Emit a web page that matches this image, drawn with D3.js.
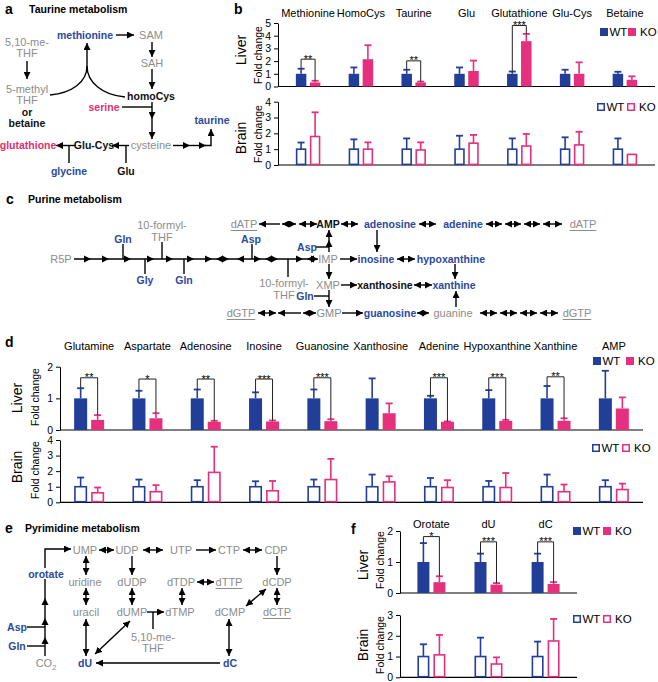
<!DOCTYPE html>
<html><head><meta charset="utf-8">
<script src="https://cdn.jsdelivr.net/npm/d3@7"></script>
<style>body{margin:0;background:#fff}svg{display:block}</style>
</head><body><svg id="c" width="658" height="682"></svg>
<script>
// ---------------- DATA ----------------
const bCategories = ["Methionine","HomoCys","Taurine","Glu","Glutathione","Glu-Cys","Betaine"];
const bLiverWT    = [1,1,1,1,1,1,1];
const bLiverWTErr = [0.40,0.50,0.32,0.50,0.18,0.32,0.16];
const bLiverKO    = [0.32,2.15,0.32,1.22,3.57,1.00,0.53];
const bLiverKOErr = [0.13,1.10,0.07,0.82,0.57,0.90,0.27];
const bLiverSig   = ["**","","**","","***","",""];
const bLiverSigAt = [2.15,0,2.02,0,4.8,0,0];
const bBrainWT    = [1,1,1,1,1,1,1];
const bBrainWTErr = [0.42,0.62,0.68,0.85,0.68,0.75,0.68];
const bBrainKO    = [1.80,1.00,0.95,1.38,1.20,1.27,0.67];
const bBrainKOErr = [1.53,0.43,0.48,0.52,0.76,0.83,0];

const dCategories = ["Glutamine","Aspartate","Adenosine","Inosine","Guanosine","Xanthosine","Adenine","Hypoxanthine","Xanthine","AMP"];
const dLiverWT    = [1,1,1,1,1,1,1,1,1,1];
const dLiverWTErr = [0.32,0.24,0.28,0.19,0.28,0.63,0.08,0.26,0.39,0.87];
const dLiverKO    = [0.32,0.37,0.26,0.27,0.28,0.53,0.26,0.29,0.29,0.68];
const dLiverKOErr = [0.15,0.16,0.03,0.03,0.06,0.31,0.01,0.03,0.08,0.35];
const dLiverSig   = ["**","*","**","***","***","","***","***","**",""];
const dLiverSigAt = [1.65,1.61,1.61,1.61,1.65,0,1.65,1.65,1.68,0];
const dBrainWT    = [1,1,1,1,1,1,1,1,1,1];
const dBrainWTErr = [0.59,0.46,0.42,0.35,0.46,0.78,0.56,0.37,0.78,0.42];
const dBrainKO    = [0.61,0.68,1.92,0.74,1.46,1.31,0.95,0.95,0.68,0.82];
const dBrainKOErr = [0.34,0.42,1.65,0.63,1.33,0.36,0.47,0.93,0.46,0.38];

const fCategories = ["Orotate","dU","dC"];
const fLiverWT    = [1,1,1];
const fLiverWTErr = [0.61,0.27,0.27];
const fLiverKO    = [0.35,0.27,0.29];
const fLiverKOErr = [0.19,0.05,0.06];
const fLiverSig   = ["*","***","***"];
const fLiverSigAt = [1.82,1.65,1.65];
const fBrainWT    = [1,1,1];
const fBrainWTErr = [0.59,0.91,0.72];
const fBrainKO    = [1.08,0.64,1.75];
const fBrainKOErr = [0.96,0.32,1.06];

const seriesNames = ["WT","KO"];

// ---------------- STYLE ----------------
const FONT = "'Liberation Sans', Arial, Helvetica, sans-serif";
const BLUE = "#213f99", PINK = "#e5307e";
const TS = {
  g:{c:"#8c8c8c", s:11, w:"normal"},
  gu:{c:"#8c8c8c", s:11, w:"normal", u:true},
  b:{c:"#2b4a9e", s:10.5, w:"bold"},
  r:{c:"#e0306f", s:10.5, w:"bold"},
  k:{c:"#111", s:10.5, w:"bold"}
};

const svg = d3.select("#c").attr("font-family", FONT);
const defs = svg.append("defs");
defs.append("marker").attr("id","ah").attr("viewBox","0 0 10 10")
  .attr("refX",10).attr("refY",5).attr("markerWidth",7).attr("markerHeight",7)
  .attr("markerUnits","userSpaceOnUse").attr("orient","auto-start-reverse")
  .append("path").attr("d","M0,0L10,5L0,10z").attr("fill","#000");

function node(g, n){
  const [t,x,y,s] = n, st = TS[s];
  const el = g.append("text").attr("x",x).attr("y",y).attr("dy","0.35em")
    .attr("text-anchor","middle").attr("font-size",st.s).attr("font-weight",st.w)
    .attr("fill",st.c);
  if (t === "CO2"){ el.text("CO"); el.append("tspan").attr("font-size",7.5).attr("dy","3").text("2"); }
  else el.text(t);
  if (st.u){
    const bb = el.node().getBBox();
    g.append("line").attr("x1",bb.x).attr("x2",bb.x+bb.width).attr("y1",y+6.5).attr("y2",y+6.5)
      .attr("stroke",st.c).attr("stroke-width",1);
  }
}
function edge(g, e){
  const [x1,y1,x2,y2,t] = e;
  const l = g.append("line").attr("x1",x1).attr("y1",y1).attr("x2",x2).attr("y2",y2)
    .attr("stroke","#000").attr("stroke-width",1.4);
  if (t==="e"||t==="b") l.attr("marker-end","url(#ah)");
  if (t==="b") l.attr("marker-start","url(#ah)");
}
function head(g, x, y, ang){
  g.append("path").attr("d","M0,0L-7,-3.5L-7,3.5z").attr("fill","#000")
    .attr("transform",`translate(${x},${y}) rotate(${ang})`);
}
function title(letter, lx, ly, text, tx){
  svg.append("text").attr("x",lx).attr("y",ly).attr("font-size",14).attr("font-weight","bold").text(letter);
  if (text) svg.append("text").attr("x",tx).attr("y",ly-1).attr("font-size",10.5).attr("font-weight","bold").text(text);
}

// ---------------- PANEL A ----------------
title("a",5,14,"Taurine metabolism",29);
const gA = svg.append("g");
const aNodes = [
  ["5,10-me-",27,42,"g"],["THF",27,53,"g"],
  ["5-methyl",27,89,"g"],["THF",27,100,"g"],["or",27,112,"k"],["betaine",27,123,"k"],
  ["methionine",85,35,"b"],["SAM",151,35,"g"],["SAH",152,63,"g"],["homoCys",151,96,"k"],
  ["serine",104,107,"r"],["cysteine",151,145.5,"g"],["Glu-Cys",94,145.5,"k"],["glutathione",28,145.5,"r"],
  ["glycine",69,171,"b"],["Glu",126,171,"k"],["taurine",212,120,"b"]
];
const aEdges = [
  [27,61,27,79,"e"],[116,35,134,35,"e"],[152,42,152,57,"e"],[152,69,152,89,"e"],
  [87,66,87,43,"e"],[122,107,152,107,"n"],[152,102,152,119,"e"],[152,119,152,139,"e"],
  [129,145.5,112,145.5,"e"],[126,145.5,126,163,"n"],[76,145.5,56,145.5,"e"],[69,145.5,69,163,"n"],
  [173,145.5,190,145.5,"e"],[190,145.5,206,145.5,"e"]
];
aEdges.forEach(e=>edge(gA,e));
gA.append("path").attr("d","M50,95 C72,93 87,82 87,66").attr("fill","none").attr("stroke","#000").attr("stroke-width",1.4);
gA.append("path").attr("d","M125,97 C102,95 87,82 87,66").attr("fill","none").attr("stroke","#000").attr("stroke-width",1.4);
gA.append("path").attr("d","M205,145.5 H211 V129").attr("fill","none").attr("stroke","#000").attr("stroke-width",1.4).attr("marker-end","url(#ah)");
aNodes.forEach(n=>node(gA,n));

// ---------------- PANEL C ----------------
title("c",6,204,"Purine metabolism",28);
const gC = svg.append("g");
const Y1=224, Y2=259, Y3=285, Y4=313;
const cNodes = [
  ["dATP",244,Y1,"gu"],["AMP",328,Y1,"k"],["adenosine",390,Y1,"b"],["adenine",463,Y1,"b"],["dATP",583,Y1,"gu"],
  ["R5P",61,Y2,"g"],["IMP",328,Y2,"g"],["inosine",376,Y2,"b"],["hypoxanthine",451,Y2,"b"],
  ["XMP",328,Y3,"g"],["xanthosine",385,Y3,"k"],["xanthine",454,Y3,"b"],
  ["dGTP",241,Y4,"gu"],["GMP",329,Y4,"g"],["guanosine",390,Y4,"b"],["guanine",453,Y4,"g"],["dGTP",577,Y4,"gu"],
  ["Gln",123,239,"b"],["10-formyl-",162,225,"g"],["THF",162,237,"g"],["Asp",251,239,"b"],["Asp",307,247,"b"],
  ["Gly",145,280,"b"],["Gln",184,280,"b"],["10-formyl-",284,283,"g"],["THF",284,295,"g"],["Gln",305,296,"b"]
];
const cEdges = [
  [280,Y1,259,Y1,"e"],[282,Y1,296,Y1,"b"],[299,Y1,317,Y1,"b"],[341,Y1,358,Y1,"b"],[419,Y1,436,Y1,"b"],
  [486,Y1,502,Y1,"b"],[505,Y1,521,Y1,"b"],[524,Y1,540,Y1,"b"],[543,Y1,562,Y1,"b"],
  [329,Y2-7,329,Y1+6,"e"],[315,247,329,247,"n"],[377,Y1+6,377,Y2-7,"e"],
  [74,Y2,318,Y2,"n"],[340,Y2,357,Y2,"e"],[397,Y2,415,Y2,"b"],
  [123,244,123,Y2,"n"],[162,242,162,Y2,"n"],[252,244,252,Y2,"n"],[145,Y2,145,274,"n"],[184,Y2,184,274,"n"],[288,Y2,288,277,"n"],
  [329,Y2+5,329,Y3-6,"e"],[455,Y2+5,455,Y3-6,"e"],
  [341,Y3,357,Y3,"e"],[414,Y3,432,Y3,"b"],
  [329,Y3+5,329,Y4-6,"e"],[314,296,329,296,"n"],[456,Y4-6,456,Y3+6,"e"],
  [258,Y4,276,Y4,"b"],[301,Y4,278,Y4,"e"],[303,Y4,316,Y4,"b"],[342,Y4,363,Y4,"e"],[417,Y4,429,Y4,"b"],
  [480,Y4,497,Y4,"b"],[500,Y4,517,Y4,"b"],[520,Y4,537,Y4,"b"],[540,Y4,558,Y4,"b"]
];
cEdges.forEach(e=>edge(gC,e));
const cHeads = [[91,0],[109,0],[131,0],[154,0],[173,0],[194,0],[212,0],[216,180],[229,0],[237,180],[261,0],[265,180],[278,0],[303,0],[307,180],[318,0]];
cHeads.forEach(h=>head(gC,h[0],Y2,h[1]));
head(gC,329,240,-90);
cNodes.forEach(n=>node(gC,n));

// ---------------- PANEL E ----------------
title("e",5,533,"Pyrimidine metabolism",25);
const gE = svg.append("g");
const E1=550, E2=582, E3=612, E4=663;
const eNodes = [
  ["UMP",85,E1,"g"],["UDP",127,E1,"g"],["UTP",181,E1,"g"],["CTP",229,E1,"g"],["CDP",276,E1,"g"],
  ["uridine",85,E2,"g"],["dUDP",132,E2,"g"],["dTDP",181,E2,"g"],["dTTP",229,E2,"gu"],["dCDP",277,E2,"g"],
  ["uracil",86,E3,"g"],["dUMP",132,E3,"g"],["dTMP",180,E3,"g"],["dCMP",230,E3,"g"],["dCTP",277,E3,"gu"],
  ["orotate",46,574,"b"],["Asp",17,627,"b"],["Gln",17,646,"b"],["5,10-me-",153,637,"g"],["THF",153,648,"g"],
  ["CO2",46,E4,"g"],["dU",85,E4,"b"],["dC",230,E4,"b"]
];
const eEdges = [
  [99,E1,114,E1,"b"],[143,E1,163,E1,"b"],[196,E1,216,E1,"e"],[243,E1,262,E1,"b"],
  [197,E2,214,E2,"b"],
  [86,E1+6,86,E2-7,"b"],[86,E2+6,86,E3-7,"b"],[86,E3+7,86,E4-7,"b"],
  [132,E1+6,132,E2-7,"e"],[132,E2+6,132,E3-7,"b"],[182,E2+6,182,E3-7,"b"],
  [277,E1+6,277,E2-7,"e"],[277,E2+6,277,E3-7,"b"],[229,E3+7,229,E4-7,"b"],
  [266,589,246,606,"b"],[130,621,95,654,"b"],[220,E4,96,E4,"e"],
  [147,E3,164,E3,"e"],[153,E3,153,629,"n"],
  [45,656,45,579,"n"],[27,627,45,627,"n"],[27,646,45,646,"n"]
];
eEdges.forEach(e=>edge(gE,e));
gE.append("path").attr("d","M45,568 V549 H71").attr("fill","none").attr("stroke","#000").attr("stroke-width",1.4).attr("marker-end","url(#ah)");
[[637],[618],[598]].forEach(h=>head(gE,45,h[0],-90));
eNodes.forEach(n=>node(gE,n));

// ---------------- BAR CHARTS ----------------
function barChart(o){
  const g = svg.append("g");
  const x = d3.scaleBand().domain(o.cats).range(o.xr).paddingOuter(o.pad);
  const y = d3.scaleLinear().domain([0,o.max]).range(o.yr);
  const ax = g.append("g").attr("transform",`translate(${o.xr[0]},0)`)
    .call(d3.axisLeft(y).ticks(o.max).tickSize(4).tickSizeOuter(0).tickFormat(d3.format("d")));
  ax.attr("font-family",FONT);
  ax.selectAll("path,line").attr("stroke","#000").attr("stroke-width",1);
  ax.selectAll("text").attr("font-size",10.5).attr("fill","#000");
  g.append("line").attr("x1",o.xr[0]).attr("x2",o.xr[1]).attr("y1",y(0)).attr("y2",y(0))
    .attr("stroke","#000").attr("stroke-width",1.2);

  const series = [
    {name:seriesNames[0], v:o.wt, e:o.wtErr, c:BLUE, dx:-o.off},
    {name:seriesNames[1], v:o.ko, e:o.koErr, c:PINK, dx:o.off}
  ];
  const cx = (i,s)=> x(o.cats[i]) + x.bandwidth()/2 + s.dx;
  series.forEach(s=>{
    const sg = g.append("g");
    const idx = o.cats.map((c,i)=>i);
    sg.selectAll("line.err").data(idx.filter(i=>s.e[i]>0)).join("line").attr("class","err")
      .attr("x1",i=>cx(i,s)).attr("x2",i=>cx(i,s))
      .attr("y1",i=>y(s.v[i])).attr("y2",i=>y(s.v[i]+s.e[i]))
      .attr("stroke",s.c).attr("stroke-width",1.6);
    sg.selectAll("line.cap").data(idx.filter(i=>s.e[i]>0)).join("line").attr("class","cap")
      .attr("x1",i=>cx(i,s)-o.cap/2).attr("x2",i=>cx(i,s)+o.cap/2)
      .attr("y1",i=>y(s.v[i]+s.e[i])).attr("y2",i=>y(s.v[i]+s.e[i]))
      .attr("stroke",s.c).attr("stroke-width",1.8);
    if (o.filled){
      sg.selectAll("rect").data(idx).join("rect")
        .attr("x",i=>cx(i,s)-o.bw/2).attr("width",o.bw)
        .attr("y",i=>y(s.v[i])).attr("height",i=>y(0)-y(s.v[i]))
        .attr("fill",s.c);
    } else {
      sg.selectAll("rect").data(idx).join("rect")
        .attr("x",i=>cx(i,s)-o.bw/2+0.8).attr("width",o.bw-1.6)
        .attr("y",i=>y(s.v[i])).attr("height",i=>y(0)-y(s.v[i])-0.6)
        .attr("fill","#fff").attr("stroke",s.c).attr("stroke-width",1.6);
    }
  });
  if (o.sig){
    o.cats.forEach((c,i)=>{
      if (!o.sig[i]) return;
      const xl = cx(i,series[0]), xr = cx(i,series[1]), yb = y(o.sigAt[i]);
      g.append("path").attr("d",`M${xl},${y(o.wt[i]+o.wtErr[i])}V${yb}H${xr}V${y(o.ko[i]+o.koErr[i])}`)
        .attr("fill","none").attr("stroke","#222").attr("stroke-width",1);
      g.append("text").attr("x",(xl+xr)/2).attr("y",yb+3.5).attr("text-anchor","middle")
        .attr("font-size",11).attr("fill","#000").text(o.sig[i]);
    });
  }
  if (o.catY){
    g.selectAll("text.cat").data(o.cats).join("text").attr("class","cat")
      .attr("x",c=>x(c)+x.bandwidth()/2).attr("y",o.catY).attr("text-anchor","middle")
      .attr("font-size",11).text(c=>c);
  }
  const mid = o.titleY;
  g.append("text").attr("transform",`translate(${o.tx},${mid[0]}) rotate(-90)`).attr("text-anchor","middle")
    .attr("dy","0.35em").attr("font-size",14).text(o.title);
  g.append("text").attr("transform",`translate(${o.fx},${mid[1]}) rotate(-90)`).attr("text-anchor","middle")
    .attr("dy","0.35em").attr("font-size",10.5).text("Fold change");
  const L = o.legend;
  [[0,BLUE],[L.dk,PINK]].forEach((p,k)=>{
    if (o.filled) g.append("rect").attr("x",L.x+p[0]).attr("y",L.y-4).attr("width",8).attr("height",8).attr("fill",p[1]);
    else g.append("rect").attr("x",L.x+p[0]+0.75).attr("y",L.y-3.25).attr("width",6.5).attr("height",6.5).attr("fill","#fff").attr("stroke",p[1]).attr("stroke-width",1.5);
    g.append("text").attr("x",L.x+p[0]+(k?12:9.5)).attr("y",L.y).attr("dy","0.36em").attr("font-size",11.5).text(seriesNames[k]);
  });
}

// panel b
svg.append("text").attr("x",234).attr("y",14).attr("font-size",14).attr("font-weight","bold").text("b");
barChart({cats:bCategories, wt:bLiverWT, wtErr:bLiverWTErr, ko:bLiverKO, koErr:bLiverKOErr,
  sig:bLiverSig, sigAt:bLiverSigAt, max:5, xr:[278,655], pad:0.07, yr:[86.5,23], bw:10.5, off:7, cap:7,
  filled:true, catY:16.5, title:"Liver", tx:241, fx:258, titleY:[50,55], legend:{x:600,y:32,dk:28}});
barChart({cats:bCategories, wt:bBrainWT, wtErr:bBrainWTErr, ko:bBrainKO, koErr:bBrainKOErr,
  max:4, xr:[278,655], pad:0.07, yr:[165,101.7], bw:10.5, off:7, cap:7,
  filled:false, title:"Brain", tx:241, fx:258, titleY:[138,134], legend:{x:597,y:107,dk:30}});

// panel d
svg.append("text").attr("x",5).attr("y",347).attr("font-size",14).attr("font-weight","bold").text("d");
barChart({cats:dCategories, wt:dLiverWT, wtErr:dLiverWTErr, ko:dLiverKO, koErr:dLiverKOErr,
  sig:dLiverSig, sigAt:dLiverSigAt, max:2, xr:[60,643], pad:0, yr:[430,366.7], bw:13, off:8.5, cap:7,
  filled:true, catY:350, title:"Liver", tx:17, fx:35, titleY:[398,397], legend:{x:593,y:361,dk:33}});
barChart({cats:dCategories, wt:dBrainWT, wtErr:dBrainWTErr, ko:dBrainKO, koErr:dBrainKOErr,
  max:4, xr:[60,643], pad:0, yr:[502.3,440], bw:13, off:8.5, cap:7,
  filled:false, title:"Brain", tx:17, fx:35, titleY:[467,470], legend:{x:592,y:448,dk:30}});

// panel f
svg.append("text").attr("x",351).attr("y",534).attr("font-size",14).attr("font-weight","bold").text("f");
barChart({cats:fCategories, wt:fLiverWT, wtErr:fLiverWTErr, ko:fLiverKO, koErr:fLiverKOErr,
  sig:fLiverSig, sigAt:fLiverSigAt, max:2, xr:[400,577], pad:0.05, yr:[593,531], bw:12, off:8, cap:7,
  filled:true, catY:528, title:"Liver", tx:363, fx:380, titleY:[565,560], legend:{x:573,y:531,dk:30}});
barChart({cats:fCategories, wt:fBrainWT, wtErr:fBrainWTErr, ko:fBrainKO, koErr:fBrainKOErr,
  max:3, xr:[400,577], pad:0.05, yr:[677.3,615], bw:12, off:8, cap:7,
  filled:false, title:"Brain", tx:363, fx:380, titleY:[645,645], legend:{x:573,y:619,dk:30}});
</script></body></html>
